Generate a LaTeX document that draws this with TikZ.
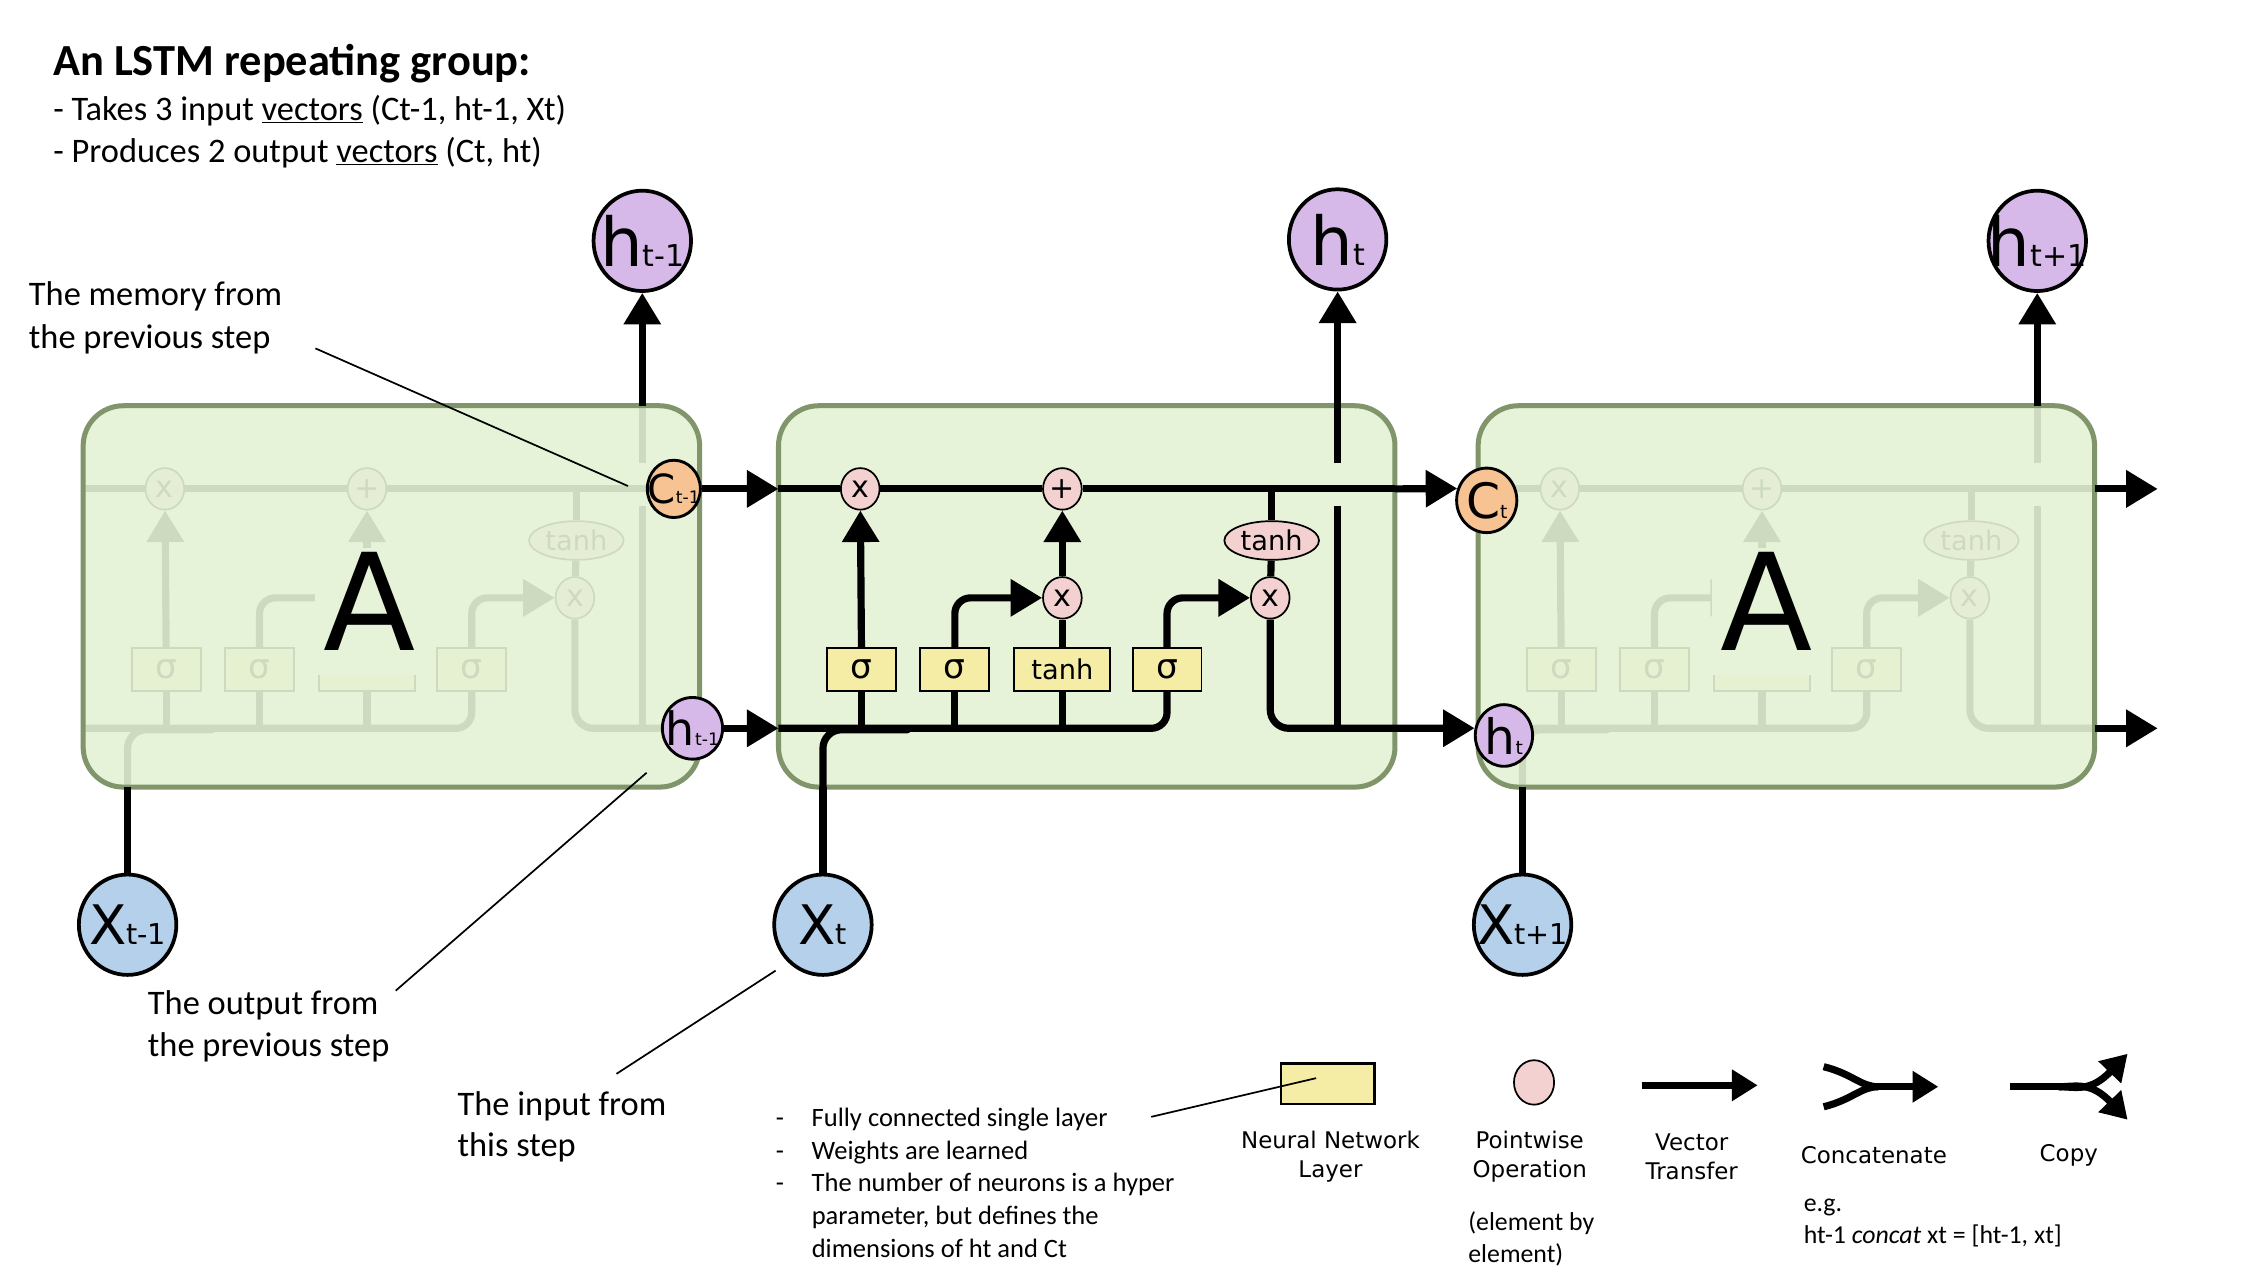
\documentclass[tikz,border=0pt]{standalone}
\usepackage{fontspec}
\usepackage{graphicx}
\setmainfont{Carlito}
\newfontfamily\dvs{DejaVu Sans}
\usetikzlibrary{arrows.meta,shapes.geometric}
\definecolor{boxfill}{HTML}{E7F3D9}
\definecolor{boxfillT}{HTML}{E4F2D5}
\definecolor{boxline}{HTML}{80956A}
\definecolor{pwpink}{HTML}{F3D1D1}
\definecolor{nnyel}{HTML}{F5ECA5}
\definecolor{corange}{HTML}{F7C393}
\definecolor{hlilac}{HTML}{D7B9E9}
\definecolor{xblue}{HTML}{B4D0EB}
\newcommand\fs[2]{\fontsize{#1}{#2}\selectfont}
\newcommand\zw[1]{\makebox[0pt]{#1}}
\newcommand\tbt{tanh}
\newcommand\mxt{x}
\tikzset{
  wire/.style={line width=5pt, black},
  arr/.style={-{Triangle[length=22pt,width=25pt]}},
  larr/.style={-{Triangle[length=18pt,width=21pt]}},
  pw/.style={ellipse, draw, line width=1.2pt, fill=pwpink, minimum width=27pt, minimum height=29pt, inner sep=0pt, font=\dvs\fs{21}{21}},
  nn/.style={rectangle, draw, line width=1.3pt, fill=nnyel, minimum height=30pt, inner sep=0pt, font=\dvs\fs{24}{24}},
  thE/.style={ellipse, draw, line width=1.2pt, fill=pwpink, minimum width=66pt, minimum height=27pt, inner sep=0pt, font=\dvs\fs{19}{19}},
  cellbox/.style={rectangle, rounded corners=28pt, line width=3.5pt, draw=boxline, minimum width=430pt, minimum height=266pt, inner sep=0pt},
  bigA/.style={fill=boxfill, inner xsep=6pt, inner ysep=3pt, text depth=14pt, anchor=base, font=\dvs\fs{94}{94}},
  bigc/.style={ellipse, draw, line width=2.6pt, minimum width=68pt, minimum height=70pt, inner sep=0pt, font=\dvs},
  sidec/.style={ellipse, draw, line width=2pt, inner sep=0pt, font=\dvs},
  callout/.style={line width=1.2pt, black},
  lbl/.style={inner sep=0pt, align=left, anchor=west},
  legt/.style={inner sep=0pt, align=center, font=\dvs\fs{16}{20}},
}
\newcommand\cellcore[3]{%
\begin{scope}[shift={(#2,#3)}]
 \coordinate (#1cl0) at (0,58);
 \coordinate (#1cl1) at (430,58);
 \coordinate (#1hl0) at (0,225);
 \coordinate (#1hl1) at (430,225);
 \coordinate (#1vtop) at (390,0);
 \coordinate (#1vg) at (390,40);
 \coordinate (#1vb) at (390,70);
 \coordinate (#1vh) at (390,225);
 \coordinate (#1xin) at (31,266);
 \coordinate (#1xj) at (90,226);
 \node[pw] (#1cx1) at (57,58) {\zw{x}};
 \node[pw] (#1cplus) at (198,58) {\zw{+}};
 \node[pw] (#1mx2) at (198,134) {\zw{\mxt}};
 \node[pw] (#1mx3) at (343,134) {\zw{x}};
 \node[thE] (#1th) at (344,94) {tanh};
 \node[nn, minimum width=48pt] (#1s1) at (58,184) {\zw{σ}};
 \node[nn, minimum width=48pt] (#1s2) at (123,184) {\zw{σ}};
 \node[nn, minimum width=67pt, font=\dvs\fs{19}{19}] (#1tb) at (198,184) {\zw{\tbt}};
 \node[nn, minimum width=48pt] (#1s3) at (271,184) {\zw{σ}};
 \draw[wire] (#1cl0) -- (#1cx1) -- (#1cplus) -- (#1cl1);
 \draw[wire,arr] (#1s1) -- (#1cx1);
 \draw[wire,arr,rounded corners=11pt] (#1s2) |- (#1mx2);
 \draw[wire] (#1tb) -- (#1mx2);
 \draw[wire,arr] (#1mx2) -- (#1cplus);
 \draw[wire,arr,rounded corners=11pt] (#1s3) |- (#1mx3);
 \draw[wire] (#1th |- #1cl0) -- (#1th);
 \draw[wire] (#1th) -- (#1mx3);
 \draw[wire,rounded corners=13pt] (#1mx3) |- (#1hl1);
 \draw[wire,rounded corners=11pt] (#1hl0) -| (#1s3);
 \draw[wire] (#1s1) -- (#1s1 |- #1hl0);
 \draw[wire] (#1s2) -- (#1s2 |- #1hl0);
 \draw[wire] (#1tb) -- (#1tb |- #1hl0);
 \draw[wire] (#1vtop) -- (#1vg);
 \draw[wire] (#1vb) -- (#1vh);
 \draw[wire,line cap=round,rounded corners=13pt] (#1xin) |- (#1xj);
\end{scope}}
\begin{document}
\begin{tikzpicture}[x=1pt,y=-1pt]
\useasboundingbox (0,0) rectangle (1568,897);
\fill[white] (0,0) rectangle (1568,897);
% title
\node[anchor=base west, inner sep=0pt, font=\bfseries\fs{31}{37}] (title) at (37,53) {An LSTM repeating group:};
\node[anchor=base west, inner sep=0pt, font=\fs{24}{29}] (b1) at (37,84) {- Takes 3 input \underline{vectors} (Ct-1, ht-1, Xt)};
\node[anchor=base west, inner sep=0pt, font=\fs{24}{29}] (b2) at (37,113) {- Produces 2 output \underline{vectors} (Ct, ht)};
% left (ghost) cell
\renewcommand\tbt{}\renewcommand\mxt{}
\cellcore{L}{58}{283}
\node[cellbox, fill=boxfillT, fill opacity=0.9] (LB) at (273,416) {};
\node[bigA] (LA) at (258,454) {A};
% right (ghost) cell
\cellcore{R}{1031}{283}
\node[cellbox, fill=boxfillT, fill opacity=0.9] (RB) at (1246,416) {};
\node[bigA] (RA) at (1232,454) {A};
% middle cell
\renewcommand\tbt{tanh}\renewcommand\mxt{x}
\node[cellbox, fill=boxfill] (MB) at (758,416) {};
\cellcore{M}{543}{283}
% outer circles
\node[bigc, fill=hlilac] (Hprev) at (448,168) {\zw{\fs{47}{47}h\fs{21}{21}t-1}};
\node[bigc, fill=hlilac] (Ht) at (933,167) {\zw{\fs{47}{47}h\fs{21}{21}t}};
\node[bigc, fill=hlilac] (Hnext) at (1421,168) {\zw{\fs{47}{47}h\fs{21}{21}t+1}};
\node[bigc, fill=xblue] (Xprev) at (89,645) {\zw{\fs{38}{38}X\fs{20}{20}t-1}};
\node[bigc, fill=xblue] (Xt) at (574,645) {\zw{\fs{38}{38}X\fs{20}{20}t}};
\node[bigc, fill=xblue] (Xnext) at (1062,645) {\zw{\fs{38}{38}X\fs{20}{20}t+1}};
\node[sidec, fill=corange, minimum width=37pt, minimum height=40pt] (Cprev) at (470,341) {\zw{\fs{28}{28}C\fs{12}{12}t-1}};
\node[sidec, fill=hlilac, minimum width=42pt, minimum height=43pt] (hps) at (483,508) {\zw{\fs{32}{32}h\fs{12}{12}t-1}};
\node[sidec, fill=corange, minimum width=42pt, minimum height=45pt] (Ct) at (1037,349) {\zw{\fs{34}{34}C\fs{13}{13}t}};
\node[sidec, fill=hlilac, minimum width=40pt, minimum height=43pt] (hts) at (1049,513) {\zw{\fs{34}{34}h\fs{13}{13}t}};
% outer connectors
\draw[wire,arr] (Lvtop) -- (Hprev);
\draw[wire,arr] (Mvg) -- (Ht);
\draw[wire,arr] (Rvtop) -- (Hnext);
\draw[wire] (Xprev) -- (Lxin);
\draw[wire] (Xt) -- (Mxin);
\draw[wire] (Xnext) -- (Rxin);
\draw[wire,arr] (Cprev) -- (Mcl0);
\draw[wire,arr] (hps) -- (Mhl0);
\draw[wire,arr] (Mcl1) -- (Ct.158);
\draw[wire,arr] (Mhl1) -- (hts.166);
\coordinate (Cout) at (1505,341);
\coordinate (Hout) at (1505,508);
\draw[wire,arr] (Rcl1) -- (Cout);
\draw[wire,arr] (Rhl1) -- (Hout);
% annotations
\node[lbl, font=\fs{24}{30}] (memT) at (20,222) {The memory from\\the previous step};
\node[lbl, font=\fs{24}{29}] (outT) at (103,716) {The output from\\the previous step};
\node[lbl, font=\fs{24}{29}] (inT) at (319,786) {The input from\\this step};
\coordinate (memA) at (220,243); \coordinate (memB) at (438,339);
\coordinate (outA) at (276,691); \coordinate (outB) at (451,539);
\coordinate (inA) at (430,749); \coordinate (inB) at (541,677);
\draw[callout] (memA) -- (memB);
\draw[callout] (outA) -- (outB);
\draw[callout] (inA) -- (inB);
% legend
\node[lbl, font=\fs{18.5}{22.75}] (bul) at (541,825) {\makebox[25pt][l]{-}Fully connected single layer\\\makebox[25pt][l]{-}Weights are learned\\\makebox[25pt][l]{-}The number of neurons is a hyper\\\hspace*{25pt}parameter, but defines the\\\hspace*{25pt}dimensions of ht and Ct};
\node[nn, minimum width=65pt, minimum height=28pt, line width=2pt] (nnL) at (926,756) {};
\coordinate (lgA) at (803,779); \coordinate (lgB) at (918,752);
\draw[callout] (lgA) -- (lgB);
\node[pw, minimum width=28pt, minimum height=31pt] (pwL) at (1070,755) {};
\coordinate (vtA) at (1145,757); \coordinate (vtB) at (1226,757);
\draw[wire,larr] (vtA) -- (vtB);
\coordinate (ccU) at (1272,744); \coordinate (ccD) at (1272,772);
\coordinate (ccM) at (1310,758); \coordinate (ccE) at (1352,758);
\draw[wire] (ccU) .. controls (1292,749) and (1298,758) .. (ccM);
\draw[wire] (ccD) .. controls (1292,767) and (1298,758) .. (ccM);
\draw[wire,larr] (ccM) -- (ccE);
\coordinate (cpA) at (1402,758); \coordinate (cpB) at (1436,758);
\coordinate (cpU) at (1484,735); \coordinate (cpD) at (1484,781);
\draw[wire] (cpA) -- (cpB);
\draw[wire,larr] (cpB) .. controls (1448,758) and (1458,762) .. (cpU);
\draw[wire,larr] (cpB) .. controls (1448,758) and (1458,754) .. (cpD);
\node[legt] (nnT) at (928,807) {Neural Network\\Layer};
\node[legt] (pwT) at (1067,807) {Pointwise\\Operation};
\node[legt] (vtT) at (1180,807) {Vector\\Transfer};
\node[legt] (ccT) at (1307,806) {Concatenate};
\node[legt] (cpT) at (1443,806) {Copy};
\node[lbl, font=\fs{18}{22}] (pwN) at (1024,864) {(element by\\element)};
\node[lbl, font=\fs{18}{22}] (ccN) at (1258,853) {e.g.\\ht-1 \textit{concat} xt = [ht-1, xt]};
\end{tikzpicture}
\end{document}
